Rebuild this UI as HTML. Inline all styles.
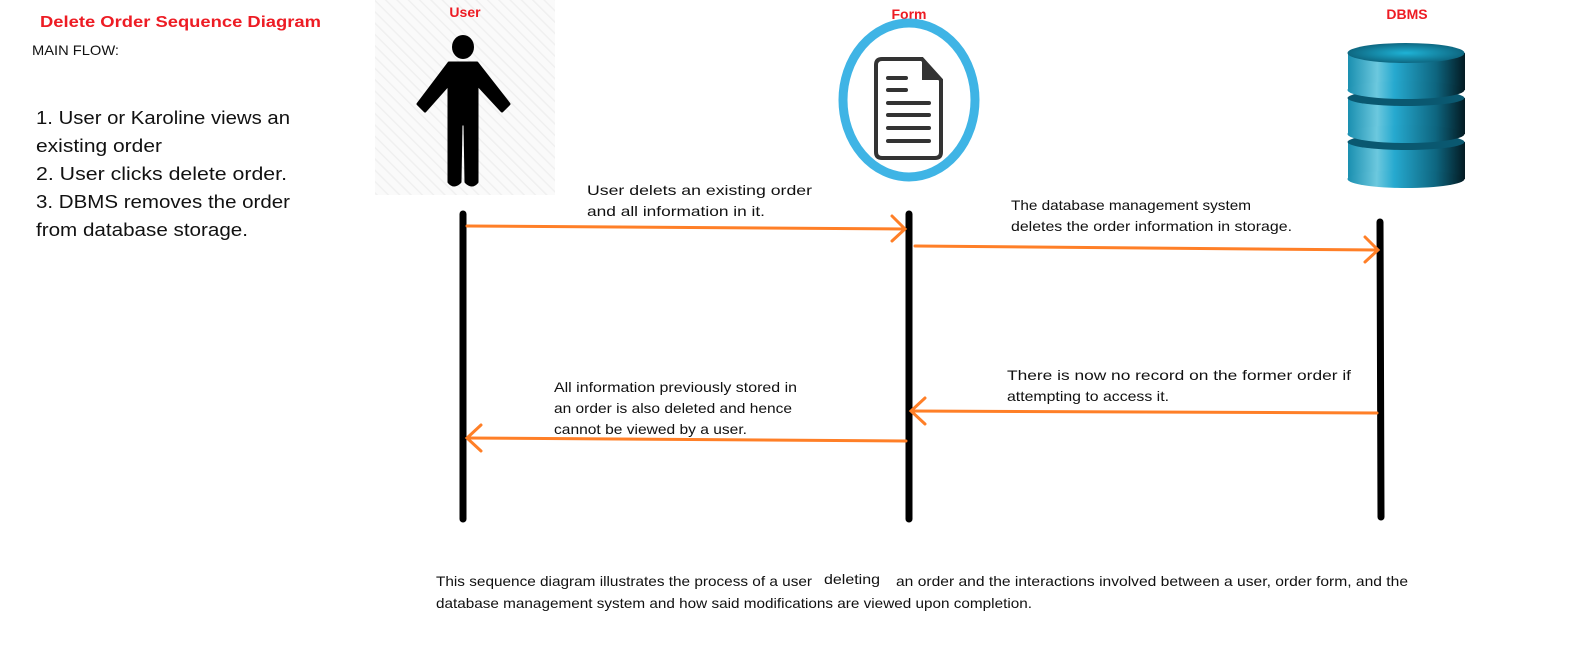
<!DOCTYPE html>
<html><head><meta charset="utf-8"><style>
html,body{margin:0;padding:0;background:#fff;overflow:hidden;width:1596px;height:672px;}
svg{display:block;font-family:"Liberation Sans",sans-serif;}
</style></head><body>
<svg width="1596" height="672" viewBox="0 0 1596 672" xmlns="http://www.w3.org/2000/svg">
<defs>
<pattern id="h" width="8" height="8" patternUnits="userSpaceOnUse" patternTransform="rotate(-45)">
<rect width="8" height="8" fill="#fafafa"/><line x1="0" y1="0" x2="0" y2="8" stroke="#f0f0f0" stroke-width="3"/>
</pattern>
<linearGradient id="cyl" x1="0" x2="1" y1="0" y2="0">
<stop offset="0" stop-color="#1a8fb0"/><stop offset="0.25" stop-color="#6cc8de"/><stop offset="0.4" stop-color="#26a9cf"/><stop offset="0.75" stop-color="#0e6680"/><stop offset="1" stop-color="#031a22"/>
</linearGradient>
<radialGradient id="top" cx="0.5" cy="0.5" r="0.6">
<stop offset="0" stop-color="#1fb3d6"/><stop offset="1" stop-color="#0a5870"/>
</radialGradient>
</defs>

<text x="40" y="27" font-size="16" font-weight="bold" fill="#ed1c24" textLength="281" lengthAdjust="spacingAndGlyphs">Delete  Order Sequence Diagram</text>
<text x="32" y="55" font-size="14" fill="#111" textLength="87" lengthAdjust="spacingAndGlyphs">MAIN FLOW:</text>
<g font-size="18.5" fill="#111">
<text x="36" y="124" textLength="254" lengthAdjust="spacingAndGlyphs">1. User or Karoline views an</text>
<text x="36" y="152" textLength="126" lengthAdjust="spacingAndGlyphs">existing order</text>
<text x="36" y="180" textLength="251" lengthAdjust="spacingAndGlyphs">2. User clicks delete order.</text>
<text x="36" y="208" textLength="254" lengthAdjust="spacingAndGlyphs">3. DBMS removes the order</text>
<text x="36" y="236" textLength="212" lengthAdjust="spacingAndGlyphs">from database storage.</text>
</g>

<!-- User -->
<rect x="375" y="0" width="180" height="195" fill="url(#h)"/>
<text x="465" y="17" font-size="14" font-weight="bold" fill="#ed1c24" text-anchor="middle">User</text>
<ellipse cx="463" cy="47" rx="11" ry="12" fill="#000"/>
<path d="M449 63 L477 63 L509 104 L502 111 L477 84 L477 182 Q472 188 466 182 L465 124 L461 124 L460 182 Q454 188 449 182 L449 84 L425 111 L418 104 Z" fill="#000" stroke="#000" stroke-width="3" stroke-linejoin="round"/>

<!-- Form -->
<text x="909" y="19" font-size="14" font-weight="bold" fill="#ed1c24" text-anchor="middle">Form</text>
<ellipse cx="909" cy="100" rx="66" ry="77" fill="#fff" stroke="#3fb4e5" stroke-width="9"/>
<path d="M882 59 L922 59 L941 80 L941 152 Q941 158 935 158 L882 158 Q876 158 876 152 L876 65 Q876 59 882 59 Z" fill="#fff" stroke="#333" stroke-width="4"/>
<path d="M922 59 L941 80 L922 80 Z" fill="#333"/>
<g stroke="#333" stroke-width="4" stroke-linecap="round">
<line x1="888" y1="78" x2="906" y2="78"/><line x1="888" y1="90" x2="906" y2="90"/>
<line x1="888" y1="103" x2="929" y2="103"/><line x1="888" y1="115" x2="929" y2="115"/>
<line x1="888" y1="128" x2="929" y2="128"/><line x1="888" y1="141" x2="929" y2="141"/>
</g>

<!-- DBMS -->
<text x="1407" y="19" font-size="14" font-weight="bold" fill="#ed1c24" text-anchor="middle">DBMS</text>
<g>
<rect x="1348" y="142" width="117" height="37" fill="url(#cyl)"/><ellipse cx="1406" cy="179" rx="58.5" ry="9" fill="url(#cyl)"/><ellipse cx="1406" cy="142" rx="58.5" ry="8" fill="#0a5870"/>
<rect x="1348" y="98" width="117" height="36" fill="url(#cyl)"/><ellipse cx="1406" cy="134" rx="58.5" ry="9" fill="url(#cyl)"/><ellipse cx="1406" cy="98" rx="58.5" ry="8" fill="#0a5870"/>
<rect x="1348" y="53" width="117" height="37" fill="url(#cyl)"/><ellipse cx="1406" cy="90" rx="58.5" ry="9" fill="url(#cyl)"/><ellipse cx="1406" cy="53" rx="58.5" ry="10" fill="url(#top)"/>
</g>

<!-- lifelines -->
<g stroke="#000" stroke-width="7" stroke-linecap="round">
<line x1="463" y1="214" x2="463" y2="519"/>
<line x1="909" y1="214" x2="909" y2="519"/>
<line x1="1380" y1="222" x2="1381" y2="517"/>
</g>

<!-- arrows -->
<g stroke="#ff7f27" stroke-width="3" fill="none" stroke-linecap="round">
<line x1="467" y1="226" x2="904" y2="229"/><polyline points="892,216 905,229 892,241"/>
<line x1="915" y1="246" x2="1377" y2="250"/><polyline points="1365,237 1378,250 1365,262"/>
<line x1="1377" y1="413" x2="912" y2="411"/><polyline points="925,398 911,411 925,424"/>
<line x1="906" y1="441" x2="468" y2="438"/><polyline points="481,425 467,438 481,451"/>
</g>

<g font-size="14" fill="#111">
<text x="587" y="195" textLength="225" lengthAdjust="spacingAndGlyphs">User delets an existing order</text>
<text x="587" y="216" textLength="178" lengthAdjust="spacingAndGlyphs">and all information in it.</text>
<text x="1011" y="210" textLength="240" lengthAdjust="spacingAndGlyphs">The database management system</text>
<text x="1011" y="231" textLength="281" lengthAdjust="spacingAndGlyphs">deletes the order information in storage.</text>
<text x="1007" y="380" textLength="344" lengthAdjust="spacingAndGlyphs">There is now no record on the former order if</text>
<text x="1007" y="401" textLength="162" lengthAdjust="spacingAndGlyphs">attempting to access it.</text>
<text x="554" y="392" textLength="243" lengthAdjust="spacingAndGlyphs">All information previously stored in</text>
<text x="554" y="413" textLength="238" lengthAdjust="spacingAndGlyphs">an order is also deleted and hence</text>
<text x="554" y="434" textLength="193" lengthAdjust="spacingAndGlyphs">cannot be viewed by a user.</text>
<text x="436" y="586" textLength="376" lengthAdjust="spacingAndGlyphs">This sequence diagram illustrates the process of a user</text>
<text x="824" y="584" textLength="56" lengthAdjust="spacingAndGlyphs">deleting</text>
<text x="896" y="586" textLength="512" lengthAdjust="spacingAndGlyphs">an order and the interactions involved between a user, order form, and the</text>
<text x="436" y="608" textLength="596" lengthAdjust="spacingAndGlyphs">database management system and how said modifications are viewed upon completion.</text>
</g>
</svg>
</body></html>
